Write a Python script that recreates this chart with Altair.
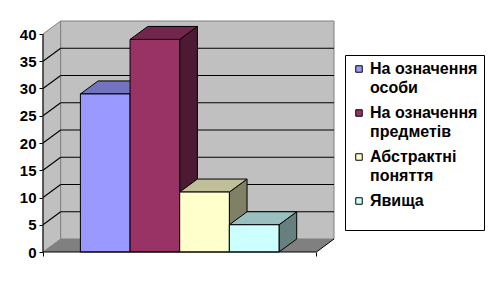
import altair as alt
import pandas as pd

# ---------------- data ----------------
cats = ["На означення особи", "На означення предметів", "Абстрактні поняття", "Явища"]
vals = [29, 39, 11, 5]
front_colors = ["#9999FF", "#993366", "#FFFFCC", "#CCFFFF"]
top_colors = ["#7373BF", "#73264D", "#BFBF99", "#99BFBF"]
side_colors = ["#4D4D80", "#4D1A33", "#808066", "#668080"]
y_ticks = [0, 5, 10, 15, 20, 25, 30, 35, 40]

# ---------------- layout (pixels) ----------------
W, H = 291, 231          # plot area incl. depth
FW = 273.4               # front width of floor
DX, DY = 17.7, 13.0      # 3-D depth offset
MARGIN, BW = 37.4, 49.65 # bar layout
YMAX = 40
K = (H - DY) / YMAX      # px per unit
E = DY / K               # depth in value units
FONT = "Liberation Sans"

xs = alt.Scale(domain=[0, W], nice=False, zero=False)
ys = alt.Scale(domain=[0, YMAX + E], nice=False, zero=False)

AX_Y = alt.Axis(values=y_ticks, domain=False, grid=False, ticks=True, tickSize=4,
                tickColor="black", labelFont=FONT, labelFontSize=15, labelFontWeight="bold",
                labelColor="black", labelPadding=3, title=None)
AX_X = alt.Axis(values=[0, FW], labels=False, domain=False, grid=False, tickSize=4,
                tickColor="black", title=None)

front_rows, side_rows, top_rows = [], [], []
for i, (c, v) in enumerate(zip(cats, vals)):
    x0 = MARGIN + i * BW
    x1 = x0 + BW
    front_rows.append({"cat": c, "x": x0, "x2": x1, "y": 0, "y2": v})
    side_rows.append({"cat": c, "shade": side_colors[i], "x": x1, "y": 0, "y2": v})
    side_rows.append({"cat": c, "shade": side_colors[i], "x": x1 + DX, "y": E, "y2": v + E})
    top_rows.append({"cat": c, "shade": top_colors[i], "y": v, "x": x0, "x2": x1})
    top_rows.append({"cat": c, "shade": top_colors[i], "y": v + E, "x": x0 + DX, "x2": x1 + DX})

front_df = pd.DataFrame(front_rows)
side_df = pd.DataFrame(side_rows)
top_df = pd.DataFrame(top_rows)

left_wall = pd.DataFrame([{"x": 0, "y": 0, "y2": YMAX}, {"x": DX, "y": E, "y2": YMAX + E}])
back_wall = pd.DataFrame([{"x": DX, "x2": W, "y": E, "y2": YMAX + E}])
floor = pd.DataFrame([{"y": 0, "x": 0, "x2": FW}, {"y": E, "x": DX, "x2": W}])
grid_back = pd.DataFrame([{"y": k + E, "x": DX, "x2": W} for k in y_ticks[1:-1]])
grid_left = pd.DataFrame([{"x": 0, "x2": DX, "y": k, "y2": k + E} for k in y_ticks[1:-1]])
yaxis_line = pd.DataFrame([{"x": 0, "y": 0, "y2": YMAX}])
xaxis_line = pd.DataFrame([{"x": 0, "x2": FW, "y": 0}])
floor_edge = pd.DataFrame([{"x": FW, "x2": W, "y": 0, "y2": E}])


def X(f="x"):
    return alt.X(f"{f}:Q", scale=xs, axis=AX_X)


def Y(f="y"):
    return alt.Y(f"{f}:Q", scale=ys, axis=AX_Y)


lw = alt.Chart(left_wall).mark_area(orient="vertical", fill="#C0C0C0", stroke="#808080", strokeWidth=1).encode(
    x=X(), y=Y(), y2="y2:Q")
bw = alt.Chart(back_wall).mark_rect(fill="#C0C0C0", stroke="#808080", strokeWidth=1).encode(
    x=X(), x2="x2:Q", y=Y(), y2="y2:Q")
fl = alt.Chart(floor).mark_area(orient="horizontal", fill="#808080").encode(
    y=Y(), x=X(), x2="x2:Q")
gb = alt.Chart(grid_back).mark_rule(color="black", strokeWidth=1.1).encode(
    y=Y(), x=X(), x2="x2:Q")
gl = alt.Chart(grid_left).mark_rule(color="black", strokeWidth=1.1).encode(
    x=X(), x2="x2:Q", y=Y(), y2="y2:Q")

sides = alt.Chart(side_df).mark_area(orient="vertical", stroke="black", strokeWidth=1).encode(
    x=X(), y=Y(), y2="y2:Q",
    fill=alt.Fill("shade:N", scale=None), detail="cat:N")
tops = alt.Chart(top_df).mark_area(orient="horizontal", stroke="black", strokeWidth=1).encode(
    y=Y(), x=X(), x2="x2:Q",
    fill=alt.Fill("shade:N", scale=None), detail="cat:N")

legend = alt.Legend(
    title=" ", titleOrient="bottom", titleFontSize=5, titlePadding=10,
    orient="none", legendX=302, legendY=34,
    fillColor="white", strokeColor="black", padding=6,
    symbolType="square", symbolSize=42, symbolStrokeColor="black", symbolStrokeWidth=1,
    labelFont=FONT, labelFontSize=16, labelFontWeight="bold", labelColor="black",
    labelLimit=300, labelOffset=3, rowPadding=9,
    labelExpr="split(replace(datum.label, regexp(' (?=[^ ]+$)'), '|'), '|')",
)
fronts = alt.Chart(front_df).mark_rect(stroke="black", strokeWidth=1, opacity=1).encode(
    x=X(), x2="x2:Q", y=Y(), y2="y2:Q",
    color=alt.Color("cat:N", scale=alt.Scale(domain=cats, range=front_colors), legend=legend))

yl = alt.Chart(yaxis_line).mark_rule(color="black", strokeWidth=1).encode(
    x=X(), y=Y(), y2="y2:Q")
xl = alt.Chart(xaxis_line).mark_rule(color="black", strokeWidth=1).encode(
    x=X(), x2="x2:Q", y=Y())
fe = alt.Chart(floor_edge).mark_rule(color="black", strokeWidth=1).encode(
    x=X(), x2="x2:Q", y=Y(), y2="y2:Q")

chart = alt.layer(lw, bw, fl, gb, gl, sides, tops, fronts, yl, xl, fe).properties(
    width=W, height=H,
    autosize=alt.AutoSizeParams(type="none"),
    padding={"left": 43, "top": 21, "right": 157, "bottom": 36},
    background="white",
).configure(style={"guide-label": {"lineHeight": 19}}, view={"strokeWidth": 0})

chart.save("out.html", embed_options={"renderer": "svg", "actions": False})
